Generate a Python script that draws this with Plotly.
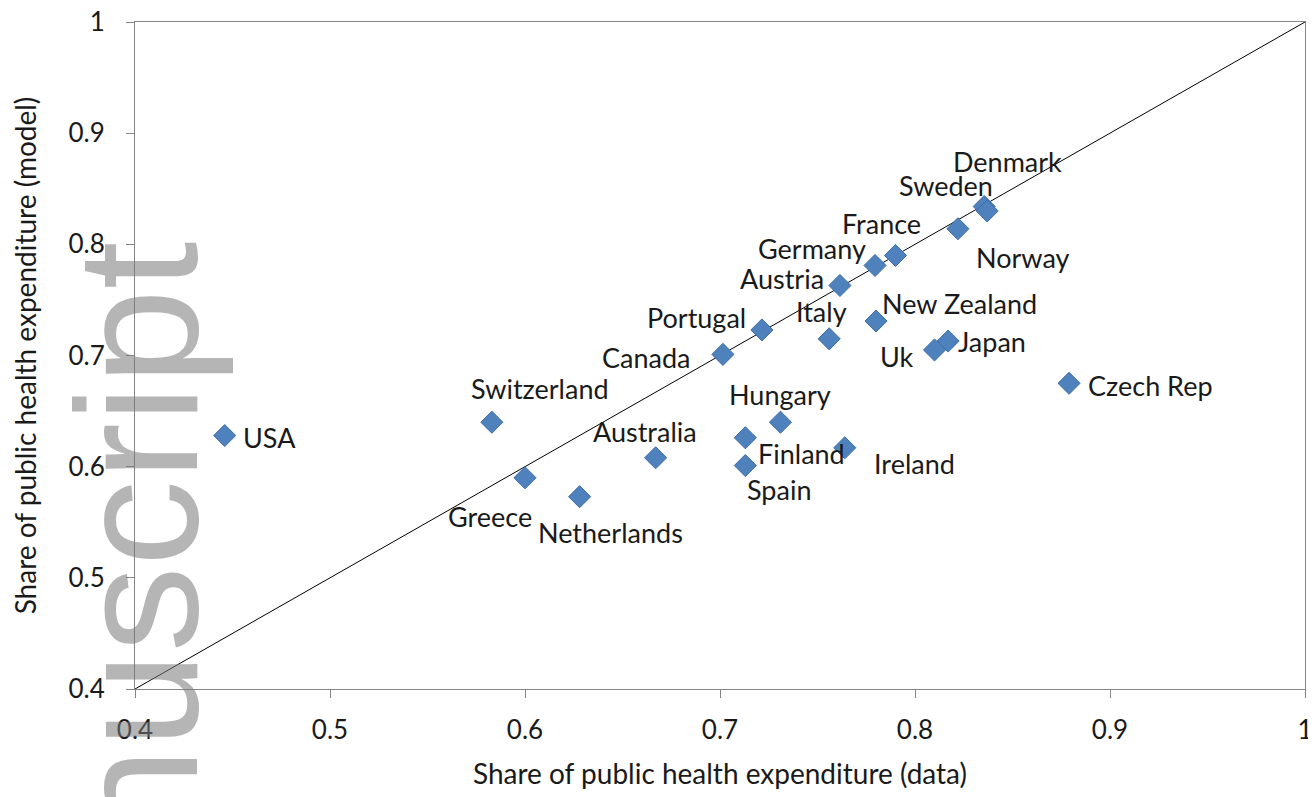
import plotly.graph_objects as go

# share of public health expenditure: observed (data) vs model
countries = [
    "USA", "Switzerland", "Greece", "Netherlands", "Australia", "Canada",
    "Portugal", "Finland", "Spain", "Hungary", "Italy", "Ireland", "Austria",
    "Germany", "France", "New Zealand", "Uk", "Japan", "Norway", "Sweden",
    "Denmark", "Czech Rep",
]
share_data = [
    0.446, 0.583, 0.600, 0.628, 0.667, 0.7015,
    0.7215, 0.713, 0.713, 0.731, 0.756, 0.764, 0.7615,
    0.7795, 0.790, 0.780, 0.810, 0.817, 0.822, 0.8355,
    0.837, 0.879,
]
share_model = [
    0.628, 0.640, 0.590, 0.573, 0.608, 0.701,
    0.723, 0.626, 0.601, 0.640, 0.715, 0.617, 0.763,
    0.781, 0.790, 0.731, 0.705, 0.713, 0.814, 0.834,
    0.830, 0.675,
]
ticks = [0.4, 0.5, 0.6, 0.7, 0.8, 0.9, 1]
tick_text = ["0.4", "0.5", "0.6", "0.7", "0.8", "0.9", "1"]

# label offsets in pixels (dx, dy) relative to the marker
label_offsets = {
    "USA": (45, -2), "Switzerland": (48, 34), "Greece": (-35, -39),
    "Netherlands": (31, -36), "Australia": (-11, 26), "Canada": (-77, -3),
    "Portugal": (-65, 12), "Finland": (56, -16), "Spain": (34, -24),
    "Hungary": (0, 28), "Italy": (-8, 27), "Ireland": (70, -16),
    "Austria": (-58, 7), "Germany": (-63, 17), "France": (-14, 32),
    "New Zealand": (83, 18), "Uk": (-38, -7), "Japan": (44, 0),
    "Norway": (65, -29), "Sweden": (-38, 21), "Denmark": (20, 49),
    "Czech Rep": (81, -2),
}

FONT = "Lato"
TEXT = "#1a1a1a"
AXIS_GREY = "#868686"

fig = go.Figure()

# 45-degree line
fig.add_trace(go.Scatter(
    x=[0.4, 1], y=[0.4, 1], mode="lines",
    line=dict(color="black", width=1), hoverinfo="skip", showlegend=False,
))

fig.add_trace(go.Scatter(
    x=share_data, y=share_model, mode="markers", text=countries,
    marker=dict(symbol="diamond", size=17, color="#4F81BD",
                line=dict(color="#3C6EAA", width=1)),
    showlegend=False,
))

for name, x, y in zip(countries, share_data, share_model):
    dx, dy = label_offsets[name]
    fig.add_annotation(
        x=x, y=y, xref="x", yref="y", text=name, showarrow=False,
        xshift=dx, yshift=dy, font=dict(family=FONT, size=27, color=TEXT),
    )

# faded watermark running up the left edge
fig.add_annotation(
    x=0.002, y=0.22, xref="paper", yref="paper", text="nuscript",
    showarrow=False, textangle=-90, xanchor="center", yanchor="middle",
    font=dict(family="Liberation Sans", size=172, color="rgba(120,120,120,0.55)"),
)

axis_common = dict(
    range=[0.4, 1], tickvals=ticks, ticktext=tick_text, automargin=False,
    showgrid=False, zeroline=False, showline=True, linecolor=AXIS_GREY,
    linewidth=1, mirror=True, ticks="outside", ticklen=8, tickcolor=AXIS_GREY,
    tickfont=dict(family=FONT, size=26, color=TEXT), ticklabeloverflow="allow",
)

# the page body adds an 8px margin at the top left
fig.update_layout(
    width=1308, height=789,
    margin=dict(l=127, r=11, t=14, b=108),
    paper_bgcolor="white", plot_bgcolor="white",
    xaxis=dict(**axis_common, ticklabelstandoff=10, title=dict(
        text="Share of public health expenditure (data)",
        font=dict(family=FONT, size=28, color=TEXT), standoff=20)),
    yaxis=dict(**axis_common, ticklabelstandoff=16, title=dict(
        text="Share of public health expenditure (model)",
        font=dict(family=FONT, size=28, color=TEXT), standoff=24)),
)

fig.write_html("out.html")
